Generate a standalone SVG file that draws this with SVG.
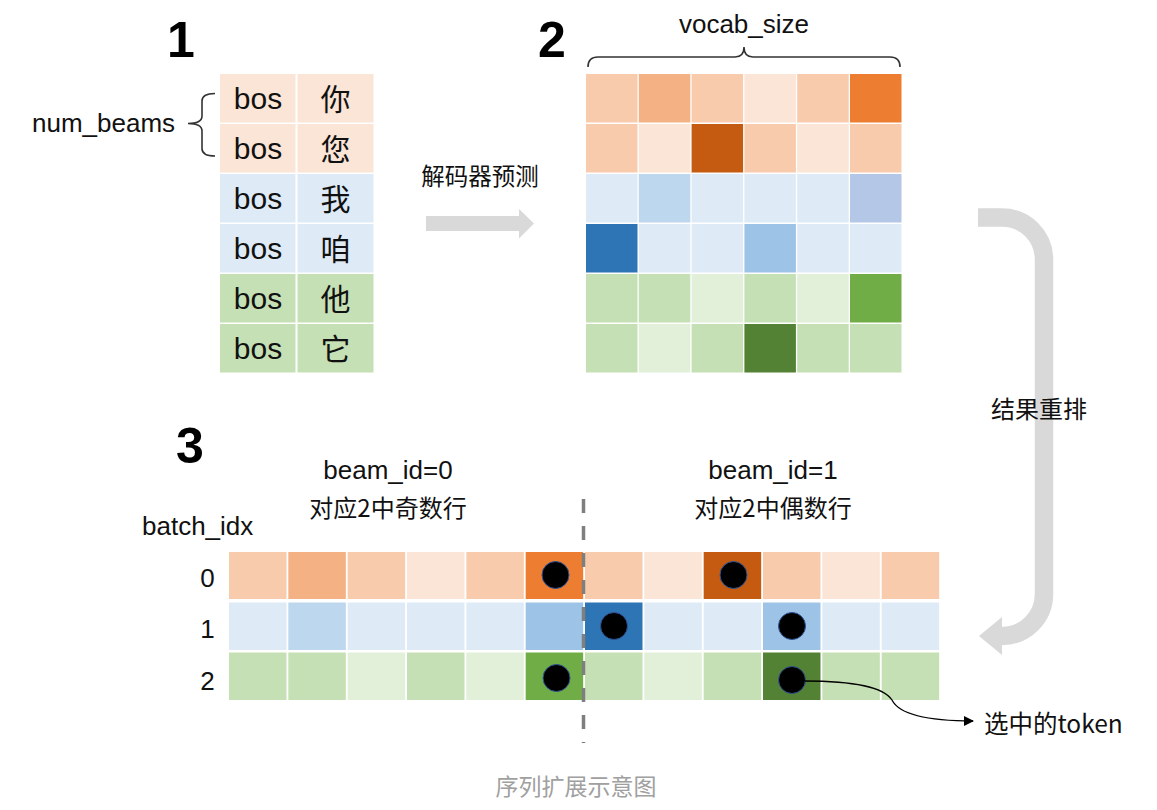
<svg xmlns="http://www.w3.org/2000/svg" width="1157" height="810" viewBox="0 0 1157 810">
<style>
.o1{fill:#FBE5D6}.o2{fill:#F8CBAD}.o3{fill:#F4B183}.o4{fill:#ED7D31}.o5{fill:#C55A11}
.b1{fill:#DEEBF7}.b2{fill:#BDD7EE}.b3{fill:#9DC3E6}.b4{fill:#2E75B6}.b5{fill:#B4C7E7}
.g1{fill:#E2F0D9}.g2{fill:#C5E0B4}.g3{fill:#70AD47}.g4{fill:#548235}
.lat{font-family:"Liberation Sans","Noto Sans CJK SC",sans-serif;fill:#111}
.cjk{font-family:"Noto Sans CJK SC","Liberation Sans",sans-serif;fill:#111}
.num{font-family:"Liberation Sans",Arial,sans-serif;font-weight:bold;font-size:50px;fill:#000;text-anchor:middle}
.dot{fill:#000;stroke:#2F5597;stroke-width:1}
.brace{fill:none;stroke:#333;stroke-width:1.6}
.garrow{fill:#D9D9D9}
</style>
<defs>
<marker id="tri" viewBox="0 0 10 10" refX="9" refY="5" markerWidth="10" markerHeight="10" markerUnits="userSpaceOnUse" orient="auto">
<path d="M0,0 L10,5 L0,10 z" fill="#000"/>
</marker>
</defs>
<rect width="1157" height="810" fill="#fff"/>

<!-- table 1 -->
<g id="table1">
<rect class="o1" x="220" y="74" width="75.5" height="48.5"/><rect class="o1" x="297.5" y="74" width="76" height="48.5"/>
<rect class="o1" x="220" y="124" width="75.5" height="48.5"/><rect class="o1" x="297.5" y="124" width="76" height="48.5"/>
<rect class="b1" x="220" y="174" width="75.5" height="48.5"/><rect class="b1" x="297.5" y="174" width="76" height="48.5"/>
<rect class="b1" x="220" y="224" width="75.5" height="48.5"/><rect class="b1" x="297.5" y="224" width="76" height="48.5"/>
<rect class="g2" x="220" y="274" width="75.5" height="48.5"/><rect class="g2" x="297.5" y="274" width="76" height="48.5"/>
<rect class="g2" x="220" y="324" width="75.5" height="48.5"/><rect class="g2" x="297.5" y="324" width="76" height="48.5"/>
<g class="lat" font-size="30" text-anchor="middle">
<text x="258" y="109">bos</text><text x="258" y="159">bos</text><text x="258" y="209">bos</text>
<text x="258" y="259">bos</text><text x="258" y="309">bos</text><text x="258" y="359">bos</text>
</g>
<g class="cjk" font-size="30" text-anchor="middle">
<text x="335.5" y="109.5">你</text><text x="335.5" y="159.5">您</text><text x="335.5" y="209.5">我</text>
<text x="335.5" y="259.5">咱</text><text x="335.5" y="309.5">他</text><text x="335.5" y="359.5">它</text>
</g>
</g>

<!-- grid 2 -->
<g id="grid2">
<rect class="o2" x="586" y="74" width="51.5" height="48.5"/><rect class="o3" x="638.8" y="74" width="51.5" height="48.5"/><rect class="o2" x="691.6" y="74" width="51.5" height="48.5"/><rect class="o1" x="744.4" y="74" width="51.5" height="48.5"/><rect class="o2" x="797.2" y="74" width="51.5" height="48.5"/><rect class="o4" x="850" y="74" width="51.5" height="48.5"/>
<rect class="o2" x="586" y="124" width="51.5" height="48.5"/><rect class="o1" x="638.8" y="124" width="51.5" height="48.5"/><rect class="o5" x="691.6" y="124" width="51.5" height="48.5"/><rect class="o2" x="744.4" y="124" width="51.5" height="48.5"/><rect class="o1" x="797.2" y="124" width="51.5" height="48.5"/><rect class="o2" x="850" y="124" width="51.5" height="48.5"/>
<rect class="b1" x="586" y="174" width="51.5" height="48.5"/><rect class="b2" x="638.8" y="174" width="51.5" height="48.5"/><rect class="b1" x="691.6" y="174" width="51.5" height="48.5"/><rect class="b1" x="744.4" y="174" width="51.5" height="48.5"/><rect class="b1" x="797.2" y="174" width="51.5" height="48.5"/><rect class="b5" x="850" y="174" width="51.5" height="48.5"/>
<rect class="b4" x="586" y="224" width="51.5" height="48.5"/><rect class="b1" x="638.8" y="224" width="51.5" height="48.5"/><rect class="b1" x="691.6" y="224" width="51.5" height="48.5"/><rect class="b3" x="744.4" y="224" width="51.5" height="48.5"/><rect class="b1" x="797.2" y="224" width="51.5" height="48.5"/><rect class="b1" x="850" y="224" width="51.5" height="48.5"/>
<rect class="g2" x="586" y="274" width="51.5" height="48.5"/><rect class="g2" x="638.8" y="274" width="51.5" height="48.5"/><rect class="g1" x="691.6" y="274" width="51.5" height="48.5"/><rect class="g2" x="744.4" y="274" width="51.5" height="48.5"/><rect class="g1" x="797.2" y="274" width="51.5" height="48.5"/><rect class="g3" x="850" y="274" width="51.5" height="48.5"/>
<rect class="g2" x="586" y="324" width="51.5" height="48.5"/><rect class="g1" x="638.8" y="324" width="51.5" height="48.5"/><rect class="g2" x="691.6" y="324" width="51.5" height="48.5"/><rect class="g4" x="744.4" y="324" width="51.5" height="48.5"/><rect class="g2" x="797.2" y="324" width="51.5" height="48.5"/><rect class="g2" x="850" y="324" width="51.5" height="48.5"/>
</g>

<!-- grid 3 -->
<g id="grid3">
<rect class="o2" x="229" y="552" width="57.5" height="47"/><rect class="o3" x="288.33" y="552" width="57.5" height="47"/><rect class="o2" x="347.67" y="552" width="57.5" height="47"/><rect class="o1" x="407" y="552" width="57.5" height="47"/><rect class="o2" x="466.33" y="552" width="57.5" height="47"/><rect class="o4" x="525.67" y="552" width="57.5" height="47"/>
<rect class="o2" x="585" y="552" width="57.5" height="47"/><rect class="o1" x="644.33" y="552" width="57.5" height="47"/><rect class="o5" x="703.67" y="552" width="57.5" height="47"/><rect class="o2" x="763" y="552" width="57.5" height="47"/><rect class="o1" x="822.33" y="552" width="57.5" height="47"/><rect class="o2" x="881.67" y="552" width="57.5" height="47"/>
<rect class="b1" x="229" y="602.5" width="57.5" height="47.5"/><rect class="b2" x="288.33" y="602.5" width="57.5" height="47.5"/><rect class="b1" x="347.67" y="602.5" width="57.5" height="47.5"/><rect class="b1" x="407" y="602.5" width="57.5" height="47.5"/><rect class="b1" x="466.33" y="602.5" width="57.5" height="47.5"/><rect class="b3" x="525.67" y="602.5" width="57.5" height="47.5"/>
<rect class="b4" x="585" y="602.5" width="57.5" height="47.5"/><rect class="b1" x="644.33" y="602.5" width="57.5" height="47.5"/><rect class="b1" x="703.67" y="602.5" width="57.5" height="47.5"/><rect class="b3" x="763" y="602.5" width="57.5" height="47.5"/><rect class="b1" x="822.33" y="602.5" width="57.5" height="47.5"/><rect class="b1" x="881.67" y="602.5" width="57.5" height="47.5"/>
<rect class="g2" x="229" y="652.5" width="57.5" height="47.5"/><rect class="g2" x="288.33" y="652.5" width="57.5" height="47.5"/><rect class="g1" x="347.67" y="652.5" width="57.5" height="47.5"/><rect class="g2" x="407" y="652.5" width="57.5" height="47.5"/><rect class="g1" x="466.33" y="652.5" width="57.5" height="47.5"/><rect class="g3" x="525.67" y="652.5" width="57.5" height="47.5"/>
<rect class="g2" x="585" y="652.5" width="57.5" height="47.5"/><rect class="g1" x="644.33" y="652.5" width="57.5" height="47.5"/><rect class="g2" x="703.67" y="652.5" width="57.5" height="47.5"/><rect class="g4" x="763" y="652.5" width="57.5" height="47.5"/><rect class="g2" x="822.33" y="652.5" width="57.5" height="47.5"/><rect class="g2" x="881.67" y="652.5" width="57.5" height="47.5"/>
<circle class="dot" cx="555.5" cy="575" r="13.5"/>
<circle class="dot" cx="733.5" cy="575" r="13.5"/>
<circle class="dot" cx="614" cy="626" r="13.5"/>
<circle class="dot" cx="792" cy="626" r="13.5"/>
<circle class="dot" cx="556.5" cy="678" r="13.5"/>
<circle class="dot" cx="792" cy="680" r="13.5"/>
<line x1="583.5" y1="499" x2="583.5" y2="743" stroke="#7F7F7F" stroke-width="3.5" stroke-dasharray="14 13"/>
</g>

<!-- connectors -->
<g id="connectors">
<polygon class="garrow" points="426,216 519,216 519,209 534,223.5 519,238.5 519,231 426,231"/>
<path d="M978 217.5 H1002 A42 42 0 0 1 1044 259.5 V594 A42 42 0 0 1 1002 636" fill="none" stroke="#D9D9D9" stroke-width="18.5"/>
<polygon class="garrow" points="1002,617 979,636 1002,655"/>
<path d="M805 681 C858 681 884 688 892 700 C900 716 935 721 973 721" fill="none" stroke="#000" stroke-width="1.3" marker-end="url(#tri)"/>
</g>

<!-- braces -->
<g id="braces">
<path class="brace" d="M215 93.5 Q202 93.5 202 101 V116 Q202 123.5 188 123.5 Q202 123.5 202 131 V148.5 Q202 156 215 156"/>
<path class="brace" d="M588 67 Q588 57 598 57 H735 Q744 57 744 47 Q744 57 753 57 H890 Q900 57 900 67"/>
</g>

<!-- labels -->
<g id="labels">
<text class="num" x="181" y="57">1</text>
<text class="num" x="552" y="57">2</text>
<text class="num" x="190" y="463">3</text>
<text class="lat" x="32" y="132" font-size="26">num_beams</text>
<text class="lat" x="744" y="33" font-size="26" text-anchor="middle">vocab_size</text>
<text class="cjk" x="480" y="185" font-size="23.5" text-anchor="middle">解码器预测</text>
<text class="cjk" x="1039" y="418" font-size="24" text-anchor="middle">结果重排</text>
<text class="lat" x="388" y="479" font-size="26" text-anchor="middle">beam_id=0</text>
<text class="cjk" x="388" y="517" font-size="24" text-anchor="middle">对应2中奇数行</text>
<text class="lat" x="773" y="479" font-size="26" text-anchor="middle">beam_id=1</text>
<text class="cjk" x="773" y="517" font-size="24" text-anchor="middle">对应2中偶数行</text>
<text class="lat" x="142" y="535" font-size="26">batch_idx</text>
<text class="lat" x="207.5" y="587" font-size="26" text-anchor="middle">0</text>
<text class="lat" x="207.5" y="638" font-size="26" text-anchor="middle">1</text>
<text class="lat" x="207.5" y="690" font-size="26" text-anchor="middle">2</text>
<text class="cjk" x="984" y="733" font-size="24.5">选中的token</text>
<text class="cjk" x="576" y="795" font-size="23" text-anchor="middle" style="fill:#A0A0A0">序列扩展示意图</text>
</g>
</svg>
